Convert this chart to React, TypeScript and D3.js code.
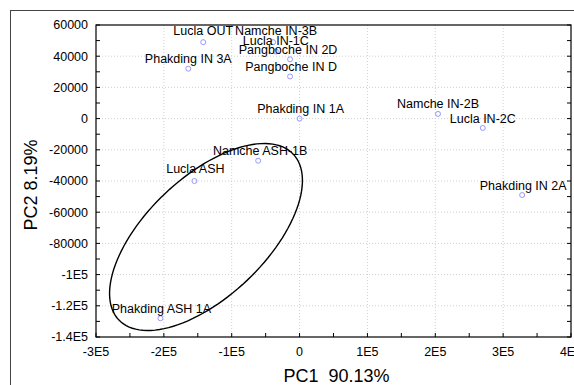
import React from "react";
import * as d3 from "d3";

// sample names and PCA scores
const names = [
  "Lucla OUT",
  "Namche IN-3B",
  "Lucla IN-1C",
  "Pangboche IN 2D",
  "Pangboche IN D",
  "Phakding IN 3A",
  "Phakding IN 1A",
  "Namche IN-2B",
  "Lucla IN-2C",
  "Phakding IN 2A",
  "Namche ASH-1B",
  "Lucla ASH",
  "Phakding ASH 1A",
];
const pc1 = [-142000, -39000, -35000, -14000, -14000, -164000, 0, 204000, 270000, 328000, -61000, -155000, -205000];
const pc2 = [49000, 49000, 43000, 38000, 27000, 32000, 0, 3000, -6000, -49000, -27000, -40000, -128000];

// label nudges in px (dx, dy relative to the point)
const labelNudge: [number, number][] = [
  [0, -12], [3, -12], [0, -10.5], [-2, -10], [1, -10], [0, -10], [1, -10],
  [0, -10], [0, -9], [1, -9], [2, -10], [1, -12], [1, -10],
];

const xTicks = [-300000, -200000, -100000, 0, 100000, 200000, 300000, 400000];
const xTickLabels = ["-3E5", "-2E5", "-1E5", "0", "1E5", "2E5", "3E5", "4E5"];
const yTicks = [60000, 40000, 20000, 0, -20000, -40000, -60000, -80000, -100000, -120000, -140000];
const yTickLabels = ["60000", "40000", "20000", "0", "-20000", "-40000", "-60000", "-80000", "-1E5", "-1.2E5", "-1.4E5"];

// ellipse around the ASH group (data units)
const ellCenter = [-137900, -75900];
const ellMajor = [128600, 53100];
const ellMinor = [60500, -27800];

const W = 574, H = 385;
const left = 96, right = 571, top = 25, bottom = 337;
const FONT = "Arial, 'Liberation Sans', sans-serif";

export default function App() {
  const x = d3.scaleLinear().domain([-300000, 400000]).range([left, right]);
  const y = d3.scaleLinear().domain([-140000, 60000]).range([bottom, top]);

  const xMinor = d3.range(-300000, 400001, 50000);
  const yMinor = d3.range(-140000, 60001, 10000);

  const ellPts = d3.range(0, 361, 3).map((deg) => {
    const t = (deg * Math.PI) / 180;
    return [
      ellCenter[0] + ellMajor[0] * Math.cos(t) + ellMinor[0] * Math.sin(t),
      ellCenter[1] + ellMajor[1] * Math.cos(t) + ellMinor[1] * Math.sin(t),
    ];
  });
  const ellPath = d3.line().x((d) => x(d[0])).y((d) => y(d[1])).curve(d3.curveLinearClosed)(ellPts as any);

  return (
    <svg
      width={W}
      height={H}
      style={{ position: "absolute", left: 0, top: 0, background: "#fff" }}
      fontFamily={FONT}
    >
      {/* outer frame */}
      <rect x={10.5} y={10.5} width={W} height={H} fill="none" stroke="#444" strokeWidth={1} />

      {/* grid */}
      {xTicks.slice(1, -1).map((t) => (
        <line key={"gx" + t} x1={x(t)} x2={x(t)} y1={top} y2={bottom} stroke="#d0d0d0" strokeDasharray="1,2" />
      ))}
      {yTicks.slice(1, -1).map((t) => (
        <line key={"gy" + t} x1={left} x2={right} y1={y(t)} y2={y(t)} stroke="#d0d0d0" strokeDasharray="1,2" />
      ))}

      {/* minor ticks, inward */}
      {xMinor.map((t) => (
        <line key={"tx" + t} x1={x(t)} x2={x(t)} y1={bottom} y2={bottom - 4} stroke="#000" />
      ))}
      {yMinor.map((t) => (
        <g key={"ty" + t}>
          <line x1={left} x2={left + 4} y1={y(t)} y2={y(t)} stroke="#000" />
          <line x1={right} x2={right - 4} y1={y(t)} y2={y(t)} stroke="#000" />
        </g>
      ))}

      {/* plot frame */}
      <rect x={left} y={top} width={right - left} height={bottom - top} fill="none" stroke="#000" strokeWidth={1.2} />

      {/* tick labels */}
      {xTicks.map((t, i) => (
        <text key={"lx" + t} x={x(t)} y={bottom + 19} textAnchor="middle" fontSize={12.5} fill="#000">
          {xTickLabels[i]}
        </text>
      ))}
      {yTicks.map((t, i) => (
        <text key={"ly" + t} x={left - 8} y={y(t)} dy="0.35em" textAnchor="end" fontSize={12.5} fill="#000">
          {yTickLabels[i]}
        </text>
      ))}

      {/* axis titles */}
      <text x={(left + right) / 2 + 3} y={382} textAnchor="middle" fontSize={18} fill="#000" xmlSpace="preserve">
        PC1  90.13%
      </text>
      <text
        transform={`translate(37,${(top + bottom) / 2 + 4}) rotate(-90)`}
        textAnchor="middle"
        fontSize={18}
        fill="#000"
      >
        PC2 8.19%
      </text>

      {/* confidence ellipse */}
      <path d={ellPath || ""} fill="none" stroke="#000" strokeWidth={1.4} />

      {/* points */}
      {names.map((n, i) => (
        <circle key={"p" + n} cx={x(pc1[i])} cy={y(pc2[i])} r={2.5} fill="none" stroke="#8c8cff" strokeWidth={0.9} />
      ))}
      {names.map((n, i) => (
        <text
          key={"t" + n}
          x={x(pc1[i]) + labelNudge[i][0]}
          y={y(pc2[i]) + labelNudge[i][1]}
          dy="0.35em"
          textAnchor="middle"
          fontSize={12.5}
          fill="#000"
        >
          {n}
        </text>
      ))}
    </svg>
  );
}
